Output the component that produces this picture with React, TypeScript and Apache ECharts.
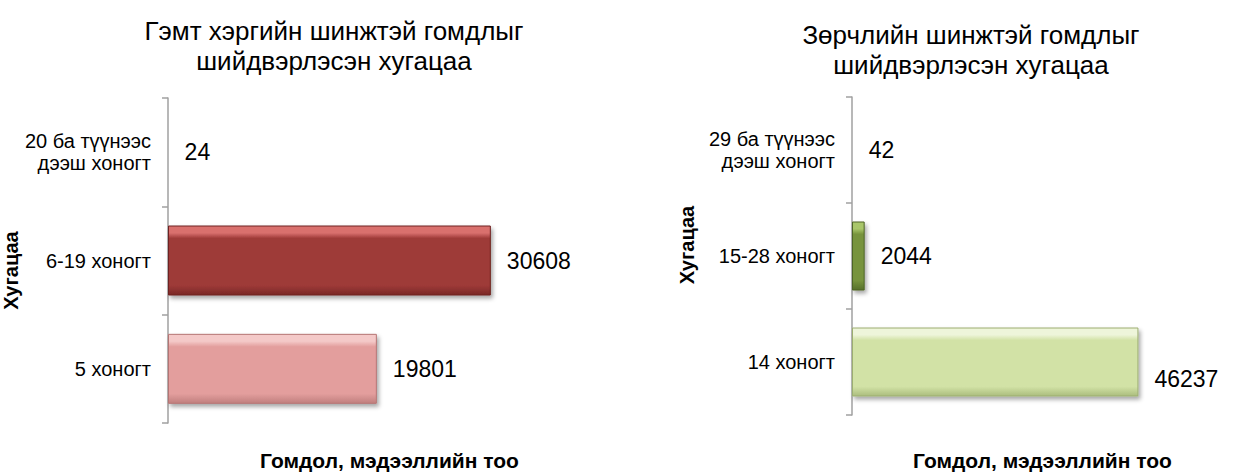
import React, { useEffect, useRef } from "react";
import * as echarts from "echarts";

const leftTitle = "Гэмт хэргийн шинжтэй гомдлыг\nшийдвэрлэсэн хугацаа";
const rightTitle = "Зөрчлийн шинжтэй гомдлыг\nшийдвэрлэсэн хугацаа";
const leftCategories = ["5 хоногт", "6-19 хоногт", "20 ба түүнээс\nдээш хоногт"];
const leftValues = [19801, 30608, 24];
const rightCategories = ["14 хоногт", "15-28 хоногт", "29 ба түүнээс\nдээш хоногт"];
const rightValues = [46237, 2044, 42];
const yAxisName = "Хугацаа";
const xAxisName = "Гомдол, мэдээллийн тоо";

const FONT = "'Liberation Sans', Arial, sans-serif";

const bevel = (light: string, main: string, dark: string) =>
  new echarts.graphic.LinearGradient(0, 0, 0, 1, [
    { offset: 0, color: light },
    { offset: 0.1, color: light },
    { offset: 0.18, color: main },
    { offset: 0.86, color: main },
    { offset: 1, color: dark },
  ]);

const leftStyles = [
  { color: bevel("#F4C9C8", "#E39E9D", "#C07F7E"), borderColor: "#B57574" },
  { color: bevel("#D9706D", "#9E3A38", "#7A2826"), borderColor: "#6E2220" },
  { color: bevel("#D9706D", "#9E3A38", "#7A2826"), borderColor: "#6E2220" },
];
const rightStyles = [
  { color: bevel("#EEF5DA", "#D2E2A6", "#ABBD7E"), borderColor: "#9CAE70" },
  { color: bevel("#A9C66A", "#77933C", "#56702A"), borderColor: "#4E6526" },
  { color: bevel("#A9C66A", "#77933C", "#56702A"), borderColor: "#4E6526" },
];

function makeAxes(gridIndex: number, cats: string[], max: number, yGap: number, yPad: number[], xGap: number) {
  const x = {
    type: "value",
    gridIndex,
    min: 0,
    max,
    axisLine: { show: false },
    axisTick: { show: false },
    axisLabel: { show: false },
    splitLine: { show: false },
    name: xAxisName,
    nameLocation: "middle",
    nameGap: xGap,
    nameTextStyle: { fontFamily: FONT, fontSize: 21, fontWeight: "bold", color: "#000" },
  };
  const y = {
    type: "category",
    gridIndex,
    data: cats,
    axisLine: { show: true, lineStyle: { color: "#A0A0A0", width: 1.5 } },
    axisTick: { show: true, length: 6, lineStyle: { color: "#A0A0A0", width: 1.5 } },
    axisLabel: { fontFamily: FONT, fontSize: 20, color: "#000", margin: 17, lineHeight: 22, align: "right" },
    splitLine: { show: false },
    name: yAxisName,
    nameLocation: "middle",
    nameRotate: 90,
    nameGap: yGap,
    nameTextStyle: { fontFamily: FONT, fontSize: 20, fontWeight: "bold", color: "#000", padding: yPad },
  };
  return { x, y };
}

export default function App() {
  const ref = useRef<HTMLDivElement>(null);
  useEffect(() => {
    if (!ref.current) return;
    const chart = echarts.init(ref.current, null, { renderer: "svg" });
    const L = makeAxes(0, leftCategories, 42000, 132, [0, 20, 0, 0], 27);
    const R = makeAxes(1, rightCategories, 61500, 155, [0, 0, 0, 22], 35);
    const label = {
      show: true,
      position: "right",
      distance: 16,
      fontFamily: FONT,
      fontSize: 23,
      color: "#000",
    };
    const shadow = { shadowBlur: 4, shadowOffsetX: 2, shadowOffsetY: 3, shadowColor: "rgba(0,0,0,0.35)", borderWidth: 1 };
    const titleStyle = { fontFamily: FONT, fontSize: 26, fontWeight: "normal", color: "#000", lineHeight: 30 };
    chart.setOption({
      animation: false,
      backgroundColor: "#fff",
      title: [
        { text: leftTitle, left: 329, top: 11, textAlign: "center", textStyle: titleStyle },
        { text: rightTitle, left: 966, top: 15, textAlign: "center", textStyle: titleStyle },
      ],
      grid: [
        { left: 164, top: 98, width: 447, height: 337 },
        { left: 852, top: 97, width: 395, height: 330 },
      ],
      xAxis: [L.x, R.x],
      yAxis: [L.y, R.y],
      series: [
        {
          type: "bar",
          xAxisIndex: 0,
          yAxisIndex: 0,
          barWidth: 70,
          label,
          data: leftValues.map((v, i) => ({ value: v, itemStyle: { ...shadow, ...leftStyles[i] } })),
        },
        {
          type: "bar",
          xAxisIndex: 1,
          yAxisIndex: 1,
          barWidth: 69,
          label,
          data: rightValues.map((v, i) => ({
            value: v,
            itemStyle: { ...shadow, ...rightStyles[i] },
            label: i === 0 ? { offset: [0, 17] } : undefined,
          })),
        },
      ],
    });
    return () => chart.dispose();
  }, []);
  return (
    <div
      ref={ref}
      style={{ position: "absolute", left: 0, top: 0, width: 1233, height: 476, background: "#fff" }}
    />
  );
}
